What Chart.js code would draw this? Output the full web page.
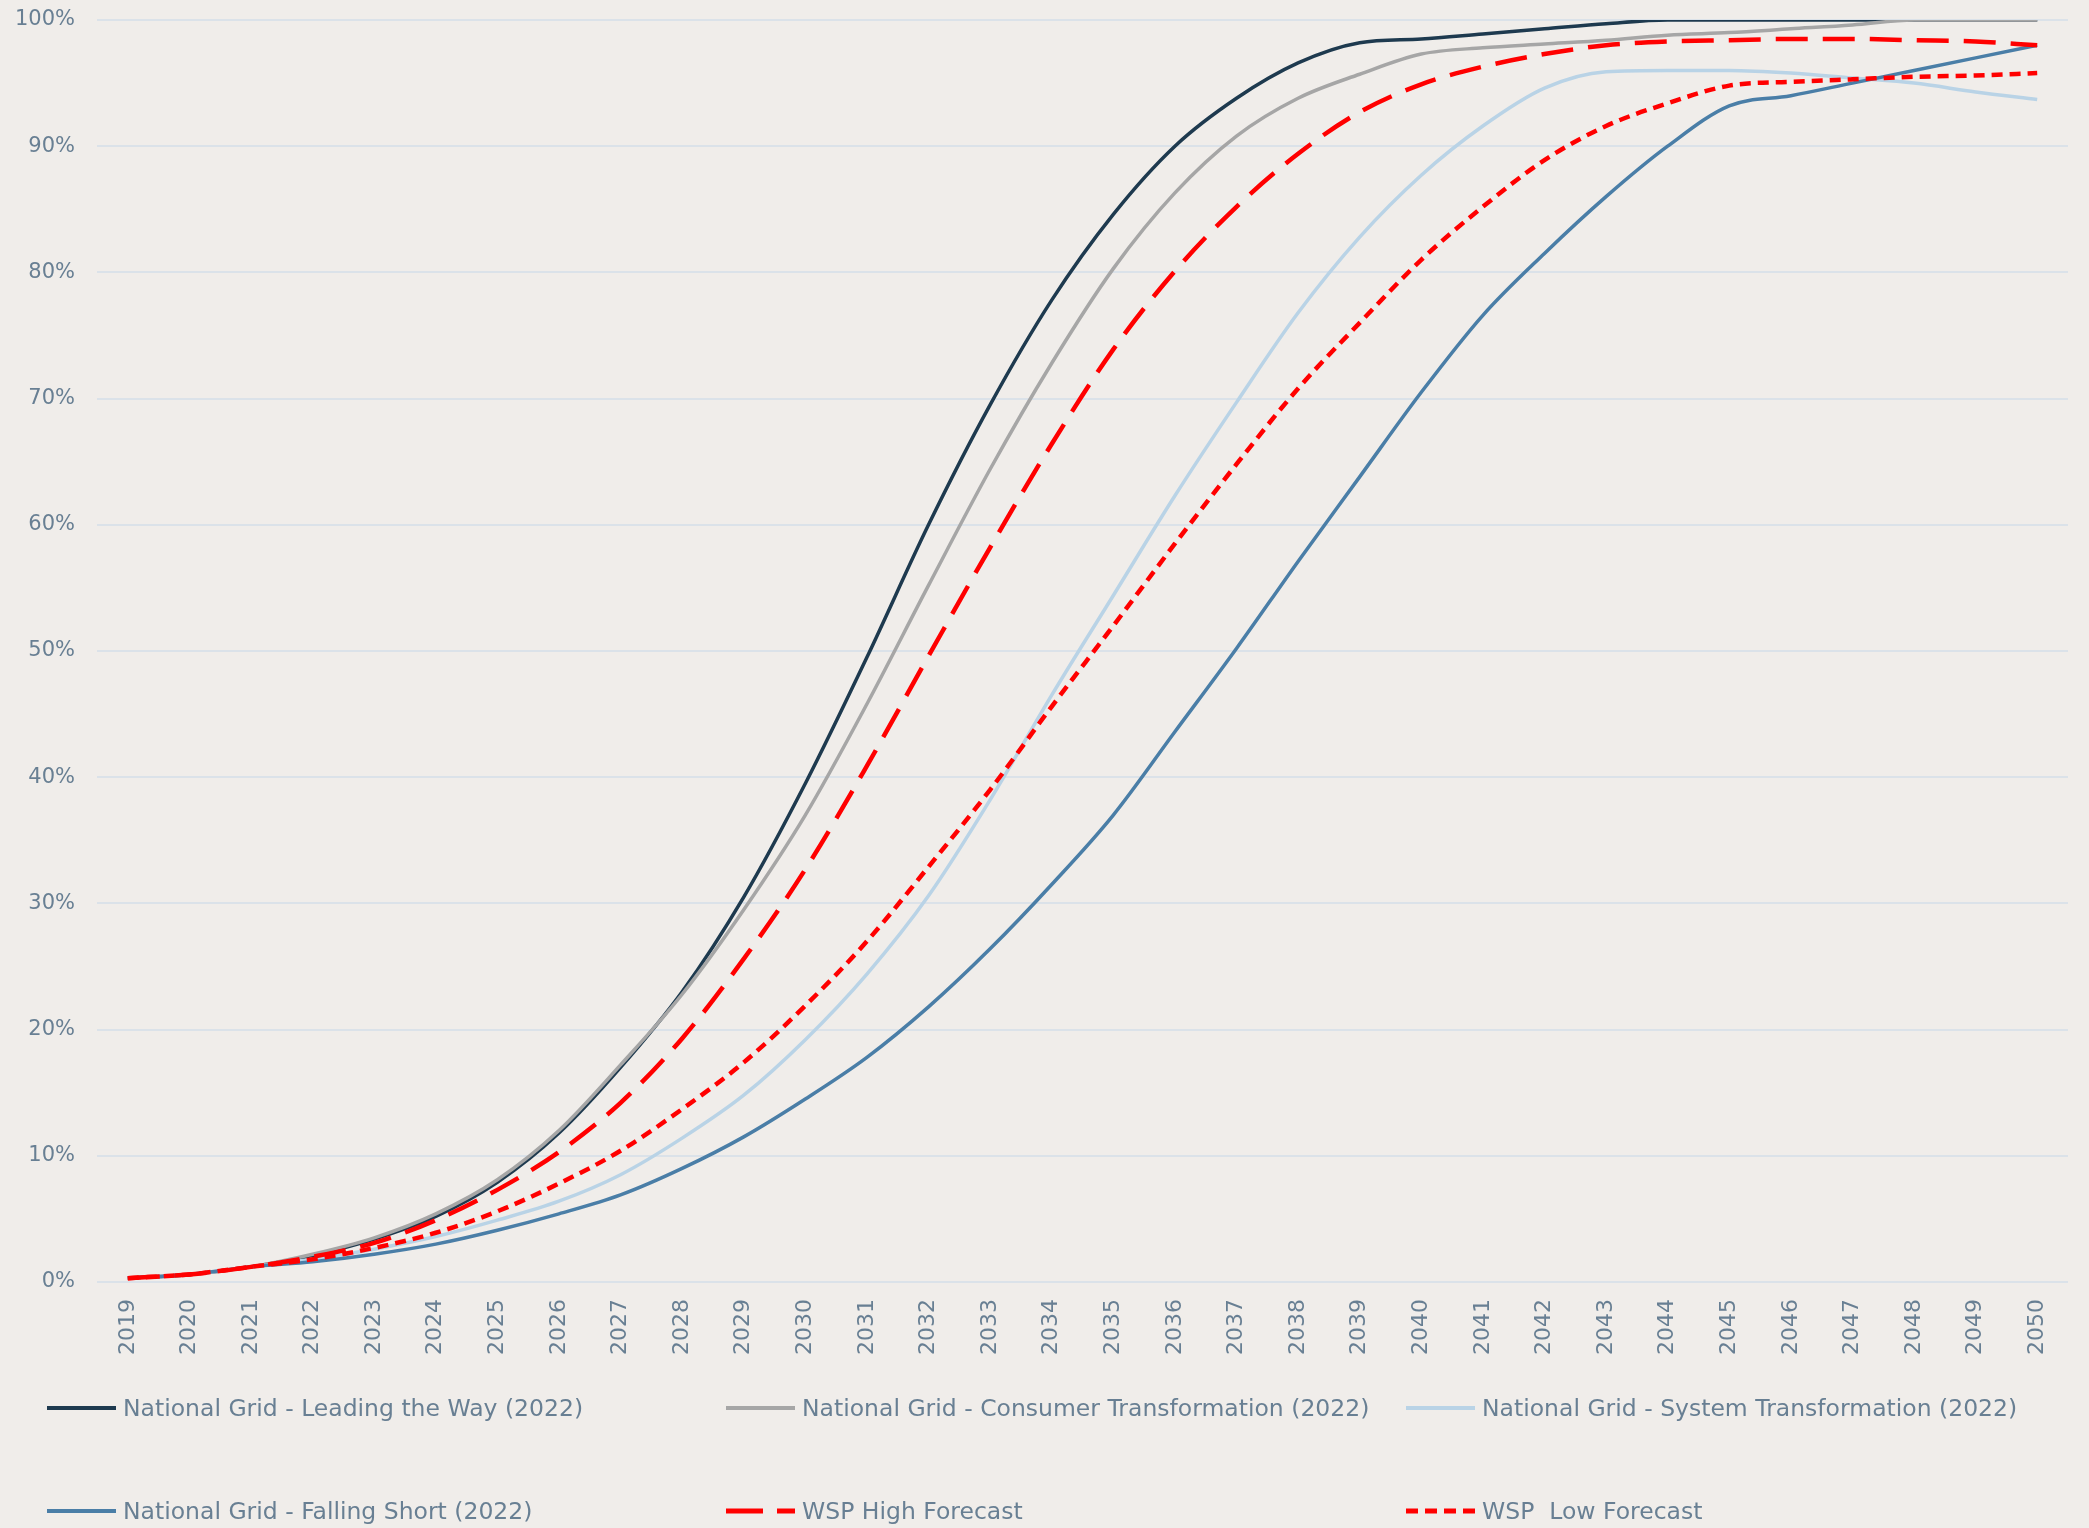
<!DOCTYPE html>
<html>
<head>
<meta charset="utf-8">
<script src="https://cdn.jsdelivr.net/npm/chart.js@4.4.1/dist/chart.umd.min.js"></script>
<style>
  html, body { margin: 0; padding: 0; background: #f0edea; }
  #wrap { position: relative; width: 2089px; height: 1528px; }
  #c { position: absolute; left: 0; top: 0; }
  .leg { position: absolute; display: flex; align-items: center; font-family: "DejaVu Sans", sans-serif; font-size: 23.5px; color: #687f93; white-space: pre; }
  .leg svg { margin-right: 7px; }
</style>
</head>
<body>
<div id="wrap"><canvas id="c" width="2089" height="1528"></canvas></div>
<script>
const years = ["2019","2020","2021","2022","2023","2024","2025","2026","2027","2028","2029","2030","2031","2032","2033","2034","2035","2036","2037","2038","2039","2040","2041","2042","2043","2044","2045","2046","2047","2048","2049","2050"];

const seriesNames = [
  "National Grid - Leading the Way (2022)",
  "National Grid - Consumer Transformation (2022)",
  "National Grid - System Transformation (2022)",
  "National Grid - Falling Short (2022)",
  "WSP High Forecast",
  "WSP  Low Forecast"
];

const leadingTheWay = [0.3,0.6,1.2,2.1,3.4,5.2,7.9,11.8,17.0,23.0,30.5,39.5,49.5,60.0,69.5,77.8,84.6,90.0,93.8,96.6,98.2,98.5,98.9,99.3,99.7,100,100,100,100,100,100,100];
const consumerTransformation = [0.3,0.6,1.2,2.2,3.5,5.4,8.1,12.0,17.2,22.8,29.5,37.0,45.8,55.2,64.4,72.8,80.3,86.3,90.8,93.8,95.7,97.3,97.8,98.1,98.4,98.8,99.0,99.3,99.6,100,100,100];
const systemTransformation = [0.3,0.6,1.2,1.8,2.6,3.6,4.9,6.4,8.5,11.4,14.8,19.2,24.4,30.6,38.2,46.5,54.4,62.3,69.7,76.8,82.8,87.7,91.6,94.6,95.9,96.0,96.0,95.8,95.4,95.0,94.3,93.7];
const fallingShort = [0.3,0.6,1.2,1.6,2.2,3.0,4.1,5.4,6.9,9.0,11.5,14.5,17.8,21.8,26.4,31.5,37.0,43.6,50.2,57.1,63.8,70.5,76.6,81.5,86.0,90.0,93.2,94.0,95.0,96.0,97.0,98.0];
const wspHigh = [0.3,0.6,1.2,2.0,3.1,4.9,7.3,10.3,14.2,19.3,25.6,32.7,40.9,49.6,58.2,66.4,73.9,80.1,85.2,89.4,92.7,94.9,96.3,97.3,98.0,98.3,98.4,98.5,98.5,98.4,98.3,98.0];
const wspLow = [0.3,0.6,1.2,1.8,2.7,3.9,5.6,7.8,10.4,13.7,17.4,21.9,27.0,32.9,39.0,45.6,52.0,58.5,64.8,70.8,76.0,81.0,85.2,88.9,91.6,93.4,94.8,95.1,95.3,95.5,95.6,95.8];

const yTicks = [0,10,20,30,40,50,60,70,80,90,100];

const styles = [
  { color: "#1e3a4f", width: 3.5, dash: [] },
  { color: "#a6a6a6", width: 3.5, dash: [] },
  { color: "#b9d3e6", width: 3.5, dash: [] },
  { color: "#4a7ea7", width: 3.5, dash: [] },
  { color: "#ff0000", width: 4.5, dash: [32, 15] },
  { color: "#ff0000", width: 4.5, dash: [11, 7] }
];
const allSeries = [leadingTheWay, consumerTransformation, systemTransformation, fallingShort, wspHigh, wspLow];

const datasets = allSeries.map((d, i) => ({
  label: seriesNames[i],
  data: d,
  borderColor: styles[i].color,
  backgroundColor: styles[i].color,
  borderWidth: styles[i].width,
  borderDash: styles[i].dash,
  pointRadius: 0,
  fill: false,
  cubicInterpolationMode: "monotone",
  order: i < 4 ? 10 - i : 1
}));

const FONT = "'DejaVu Sans', sans-serif";
const TXT = "#687f93";

new Chart(document.getElementById("c"), {
  type: "line",
  data: { labels: years, datasets: datasets },
  options: {
    responsive: false,
    animation: false,
    layout: { padding: { left: 0, right: 21, top: 20, bottom: 0 } },
    plugins: { legend: { display: false }, tooltip: { enabled: false } },
    scales: {
      x: {
        offset: true,
        grid: { display: false, drawTicks: false },
        border: { display: false },
        ticks: { color: TXT, font: { family: FONT, size: 22 }, minRotation: 90, maxRotation: 90, padding: 17, autoSkip: false },
        afterFit: (s) => { s.height = 246; s.paddingLeft = 0; s.paddingRight = 0; }
      },
      y: {
        min: 0, max: 100,
        afterBuildTicks: (s) => { s.ticks = yTicks.map(v => ({ value: v })); },
        grid: { color: "#dbe2e9", lineWidth: 2, drawTicks: false },
        border: { display: false },
        ticks: { color: TXT, font: { family: FONT, size: 21 }, padding: 22, callback: (v) => v + "%" },
        afterFit: (s) => { s.width = 97; s.paddingTop = 0; s.paddingBottom = 0; }
      }
    }
  }
});

// HTML legend built from the same series definitions
const legPos = [
  { x: 47, y: 1408 }, { x: 726, y: 1408 }, { x: 1406, y: 1408 },
  { x: 47, y: 1511 }, { x: 726, y: 1511 }, { x: 1406, y: 1511 }
];
const wrap = document.getElementById("wrap");
seriesNames.forEach((name, i) => {
  const el = document.createElement("div");
  el.className = "leg";
  el.style.left = legPos[i].x + "px";
  el.style.top = (legPos[i].y - 15) + "px";
  el.style.height = "30px";
  const st = styles[i];
  let dashAttr = "";
  if (i === 4) dashAttr = 'stroke-dasharray="37 14"';
  if (i === 5) dashAttr = 'stroke-dasharray="12 7"';
  el.innerHTML = '<svg width="69" height="10"><line x1="0" y1="5" x2="69" y2="5" stroke="' + st.color + '" stroke-width="' + (i >= 4 ? 5 : 4) + '" ' + dashAttr + '/></svg><span>' + name + '</span>';
  wrap.appendChild(el);
});
</script>
</body>
</html>
